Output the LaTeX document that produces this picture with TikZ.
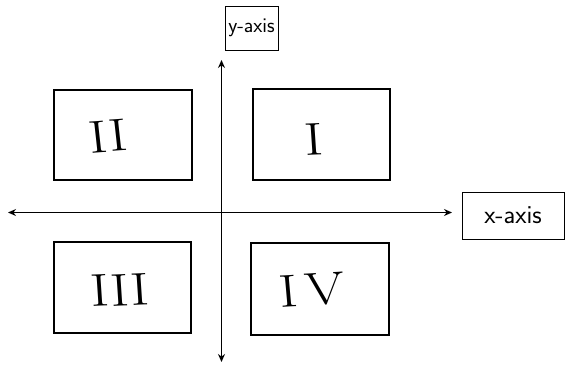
\documentclass[tikz,border=0pt]{standalone}
\usetikzlibrary{arrows.meta}
\begin{document}
\begin{tikzpicture}[x=1pt,y=-1pt,
  quadbox/.style={draw, line width=1.1pt},
  labelbox/.style={draw, line width=1pt},
  axisline/.style={line width=1.1pt, -{Stealth[length=8pt,width=7pt]}},
  numeral/.style={font=\fontsize{46}{46}\selectfont, inner sep=0pt, xscale=1.25},
  axislabel/.style={font=\sffamily\fontsize{21}{21}\selectfont, inner sep=0pt}]
  \useasboundingbox (0,0) rectangle (565,365);
  % quadrant frames
  \draw[quadbox] (54,90) rectangle (192,180);
  \draw[quadbox] (253,89) rectangle (390,180);
  \draw[quadbox] (54,242) rectangle (191,333);
  \draw[quadbox] (251,243) rectangle (389,335);
  % quadrant numerals
  \node[numeral, rotate=5] (q2) at (108,136) {II};
  \node[numeral, rotate=3] (q1) at (314,139) {I};
  \node[numeral, rotate=3] (q3) at (120,290) {III};
  \node[numeral, rotate=4] (q4) at (312,290) {I\kern6pt V};
  % axis labels
  \node[labelbox, minimum width=53pt, minimum height=44pt] (ylab) at (251.5,28) {};
  \node[axislabel] at (ylab.center) {y-axis};
  \node[labelbox, minimum width=102pt, minimum height=47pt] (xlab) at (513,215.5) {};
  \node[axislabel, font=\sffamily\fontsize{26}{26}\selectfont] at (xlab.center) {x-axis};
  % axes
  \coordinate (o) at (221.5,212.5);
  \coordinate (ytop) at (221.5,60);
  \coordinate (ybot) at (221.5,362);
  \coordinate (xleft) at (8,212.5);
  \coordinate (xright) at (452,212.5);
  \draw[axisline] (o) -- (ytop);
  \draw[axisline] (o) -- (ybot);
  \draw[axisline] (o) -- (xleft);
  \draw[axisline] (o) -- (xright);
\end{tikzpicture}
\end{document}
